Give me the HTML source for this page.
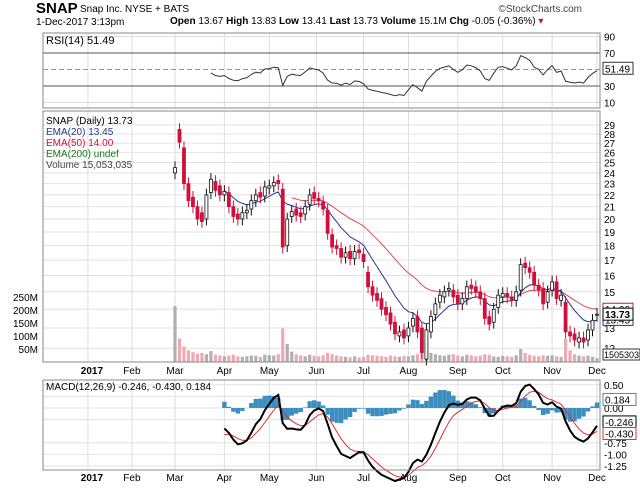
<!DOCTYPE html>
<html><head><meta charset="utf-8"><style>
body{margin:0;background:#fff;width:640px;height:485px;overflow:hidden;font-family:"Liberation Sans",sans-serif}
svg text{font-family:"Liberation Sans",sans-serif}
</style></head><body>
<svg id="c" width="640" height="485" xmlns="http://www.w3.org/2000/svg">
<text x="36" y="13" font-size="15" font-weight="bold">SNAP</text>
<text x="80" y="12" font-size="10">Snap Inc. NYSE + BATS</text>
<text x="36" y="25" font-size="10">1-Dec-2017 3:13pm</text>
<text x="582" y="12" font-size="10" fill="#444" text-anchor="end">©StockCharts.com</text>
<text x="170" y="24" font-size="10"><tspan font-weight="bold">Open</tspan> 13.67 <tspan font-weight="bold">High</tspan> 13.83 <tspan font-weight="bold">Low</tspan> 13.41 <tspan font-weight="bold">Last</tspan> 13.73 <tspan font-weight="bold">Volume</tspan> 15.1M <tspan font-weight="bold">Chg</tspan> -0.05 (-0.36%) <tspan fill="#c0103a">▾</tspan></text>
<g id="g"></g>
</svg>
<script>
const closes=[24.5,27.1,23.0,21.5,21.0,20.0,19.8,22.0,23.4,22.4,22.0,22.3,21.0,20.2,20.0,20.5,20.7,21.5,22.0,21.8,22.7,22.8,23.1,23.0,17.9,20.0,20.6,20.3,20.2,21.0,22.0,21.7,21.5,20.8,18.9,17.9,17.8,17.2,17.5,17.1,17.6,17.5,16.9,15.3,14.8,14.5,14.0,13.7,13.2,12.7,12.8,12.5,13.0,13.5,12.8,11.8,12.9,13.6,14.3,14.8,15.0,15.2,14.7,14.3,14.6,15.3,15.2,15.0,14.6,13.5,13.2,14.0,14.8,14.9,14.7,14.5,15.0,16.7,16.5,16.2,15.4,15.1,14.3,15.0,15.6,14.6,14.8,12.8,12.6,12.4,12.5,12.3,12.9,13.4,13.73];
const opens=[24.0,28.5,26.5,23.0,21.8,21.0,20.5,20.0,22.2,23.2,22.8,22.0,22.2,21.0,20.4,20.0,20.5,20.8,21.5,22.2,21.9,22.6,22.8,23.3,22.5,18.0,20.2,20.8,20.5,20.4,21.2,22.2,21.7,21.4,20.7,18.8,18.0,17.8,17.2,17.6,17.1,17.7,17.4,16.2,15.3,14.9,14.6,14.1,13.8,13.3,12.6,12.9,12.6,13.1,13.6,13.0,11.5,12.8,13.7,14.4,14.7,15.1,15.1,14.8,14.3,14.6,15.4,15.3,15.0,14.6,13.6,13.3,14.1,14.7,14.9,14.7,14.5,15.1,16.8,16.5,16.2,15.4,15.2,14.4,15.1,15.6,14.5,14.4,12.8,12.7,12.3,12.5,12.4,12.9,13.67];
const volumes=[215,90,60,45,38,32,35,30,42,28,25,22,25,28,22,20,22,25,24,20,28,26,25,30,130,70,40,30,25,22,28,24,22,26,35,30,25,22,20,18,22,18,20,28,26,24,22,20,25,22,20,24,22,26,30,120,60,35,30,26,24,28,30,25,22,28,26,22,24,30,28,22,20,24,22,20,26,50,35,28,24,22,26,24,26,22,20,90,45,30,25,22,24,20,15];
const monthLabels=["2017","Feb","Mar","Apr","May","Jun","Jul","Aug","Sep","Oct","Nov","Dec"];
const monthIdx=[-19.4,-9.6,0,11,21,31.5,42,52,63,73,84,94];
const priceTicks=[12,13,15,16,17,18,19,20,21,22,23,24,25,26,27,28,29];
const volTicks=[50,100,150,200,250];
const rsiTicks=[10,30,70,90];
const macdTicks=[0.5,0.25,0,-0.25,-0.75,-1.0,-1.25];

const NS="http://www.w3.org/2000/svg",G=document.getElementById('g');
function el(t,a,txt){const e=document.createElementNS(NS,t);for(const k in a)e.setAttribute(k,a[k]);if(txt!==undefined)e.textContent=txt;G.appendChild(e);return e;}
const L=43,R=600,N=closes.length;
const X=i=>175+i*(597-175)/94;
const PT=111,PB=362;
const Y=p=>125+(Math.log(29)-Math.log(p))*253;
const VY=v=>362-v*0.26;
const RT=33,RB=108,RY=v=>86-(v-30)*0.825;
const MT=380,MB=470,MY=v=>408-v*46.4;
function ema(arr,n,start){const a=2/(n+1),o=[];let e=null;for(let i=0;i<arr.length;i++){if(e===null){e=arr[i];}else e=a*arr[i]+(1-a)*e;o.push(i>=start?e:null);}return o;}
const ema20=ema(closes,10,11),ema50=ema(closes,25,26);
function panel(t,b,name){el('rect',{x:L,y:t,width:R-L,height:b-t,fill:'none',stroke:'#888','stroke-width':1,});}
function vgrid(t,b){monthIdx.forEach(m=>{const x=X(m);const g=el('line',{x1:x,x2:x,y1:t,y2:b,stroke:'#ddd'});});}
// RSI
vgrid(RT,RB);
[50].forEach(v=>{const l=el('line',{x1:L,x2:R,y1:RY(v),y2:RY(v),stroke:'#999','stroke-dasharray':'5,3'});});
rsiTicks.forEach(v=>{const dark=(v==30||v==70);const l=el('line',{x1:L,x2:R,y1:RY(v),y2:RY(v),stroke:dark?'#555':'#ddd'});
const t=el('text',{x:604,y:RY(v)+4,'font-size':10},String(v));});
let rsi=[],ag=0,al=0;const P=11;
for(let i=1;i<N;i++){const d=closes[i]-closes[i-1];const g=Math.max(d,0),l=Math.max(-d,0);if(i<=P){ag+=g/P;al+=l/P;}else{ag=(ag*(P-1)+g)/P;al=(al*(P-1)+l)/P;}rsi[i]=al===0?100:100-100/(1+ag/al);}
let rp='';for(let i=8;i<N;i++){rp+=(rp?'L':'M')+X(i).toFixed(1)+','+RY(rsi[i]).toFixed(1);}
const rl=el('path',{d:rp,fill:'none',stroke:'#333','stroke-width':1});
panel(RT,RB,'rsi-panel');
el('text',{x:46,y:44,'font-size':11,},'RSI(14) 51.49');
const rb=el('rect',{x:603,y:RY(51.49)-6,width:30,height:12,fill:'#fff',stroke:'#333'});
el('text',{x:605,y:RY(51.49)+4,'font-size':10,},'51.49');
// main
vgrid(PT,PB);
for(let p=12;p<=29;p++){const l=el('line',{x1:L,x2:R,y1:Y(p),y2:Y(p),stroke:'#e2e2e2'});}
priceTicks.forEach(p=>{const t=el('text',{x:604,y:Y(p)+4,'font-size':10},String(p));});
volTicks.forEach(v=>{const t=el('text',{x:38,y:VY(v)+4,'font-size':10,'text-anchor':'end'},v+'M');});
for(let i=0;i<N;i++){const up=closes[i]>=opens[i];const b=el('rect',{x:X(i)-1.6,y:VY(volumes[i]),width:3.2,height:362-VY(volumes[i]),fill:up?'#b0b0b0':'#eeaab4'});}
function line(arr,fn,stroke,name,w){let d='';arr.forEach((v,i)=>{if(v==null)return;d+=(d?'L':'M')+X(i).toFixed(1)+','+fn(v).toFixed(1);});const p=el('path',{d:d,fill:'none',stroke:stroke,'stroke-width':w||1});}
line(ema50,Y,'#e0485a','ema50-line');
line(ema20,Y,'#2b3590','ema20-line');
for(let i=0;i<N;i++){const o=opens[i],c=closes[i],up=c>=o;const hi=Math.max(o,c)*1.025,lo=Math.min(o,c)*0.975;const col=up?'#111':'#d0103a';
const w=el('line',{x1:X(i),x2:X(i),y1:Y(hi),y2:Y(lo),stroke:col});
const b=el('rect',{x:X(i)-1.5,y:Y(Math.max(o,c)),width:3,height:Math.max(1,Y(Math.min(o,c))-Y(Math.max(o,c))),fill:up?'#fff':col,stroke:col,'stroke-width':0.8});}
panel(PT,PB,'price-panel');
el('text',{x:46,y:124,'font-size':10,},'SNAP (Daily) 13.73');
el('text',{x:46,y:135,'font-size':10,fill:'#2b3590',},'EMA(20) 13.45');
el('text',{x:46,y:146,'font-size':10,fill:'#d0103a',},'EMA(50) 14.00');
el('text',{x:46,y:157,'font-size':10,fill:'#1a7a1a',},'EMA(200) undef');
el('text',{x:46,y:168,'font-size':10,fill:'#444',},'Volume 15,053,035');
[[14.0,'14.00','#d0103a'],[13.45,'13.45','#2b3590'],[13.73,'13.73','#000']].forEach(a=>{const b=el('rect',{x:603,y:Y(a[0])-6,width:30,height:12,fill:'#fff',stroke:a[2]});
const t=el('text',{x:605,y:Y(a[0])+4,'font-size':10,'font-weight':a[1]=='13.73'?'bold':'normal'},a[1]);});
el('rect',{x:603,y:349,width:37,height:11,fill:'#fff',stroke:'#333',});
el('text',{x:604,y:358,'font-size':9,},'15053035');
function dates(y){monthLabels.forEach((m,k)=>{const t=el('text',{x:X(monthIdx[k])+(k==0?4:0),y:y,'font-size':10,'text-anchor':'middle','font-weight':k==0?'bold':'normal'},m);});}
dates(374);
// MACD
const e12=ema(closes,7,0),e26=ema(closes,15,0);
const macd=e12.map((v,i)=>v-e26[i]);
const sig=ema(macd,5,0);
vgrid(MT,MB);
macdTicks.forEach(v=>{const l=el('line',{x1:L,x2:R,y1:MY(v),y2:MY(v),stroke:'#e2e2e2'});
const t=el('text',{x:604,y:MY(v)+4,'font-size':10},v.toFixed(2));});
for(let i=11;i<N;i++){const h=macd[i]-sig[i];const b=el('rect',{x:X(i)-2.2,y:Math.min(MY(h),MY(0)),width:4.4,height:Math.abs(MY(h)-MY(0)),fill:'#3a8ec0'});}
line(sig.map((v,i)=>i>=11?v:null),MY,'#e03030','macd-signal-line',1);
line(macd.map((v,i)=>i>=11?v:null),MY,'#000','macd-line',2);
panel(MT,MB,'macd-panel');
el('text',{x:46,y:390,'font-size':10,},'MACD(12,26,9) -0.246, -0.430, 0.184');
[[0.184,'0.184','#3a8ec0'],[-0.246,'-0.246','#000'],[-0.43,'-0.430','#e03030']].forEach(a=>{const yy=a[0]==0.184?MY(0.184):(a[0]==-0.246?MY(-0.3):MY(-0.55));const b=el('rect',{x:603,y:yy-6,width:33,height:12,fill:'#fff',stroke:a[2]});
const t=el('text',{x:605,y:yy+4,'font-size':10},a[1]);});
dates(481);
</script>
</body></html>
